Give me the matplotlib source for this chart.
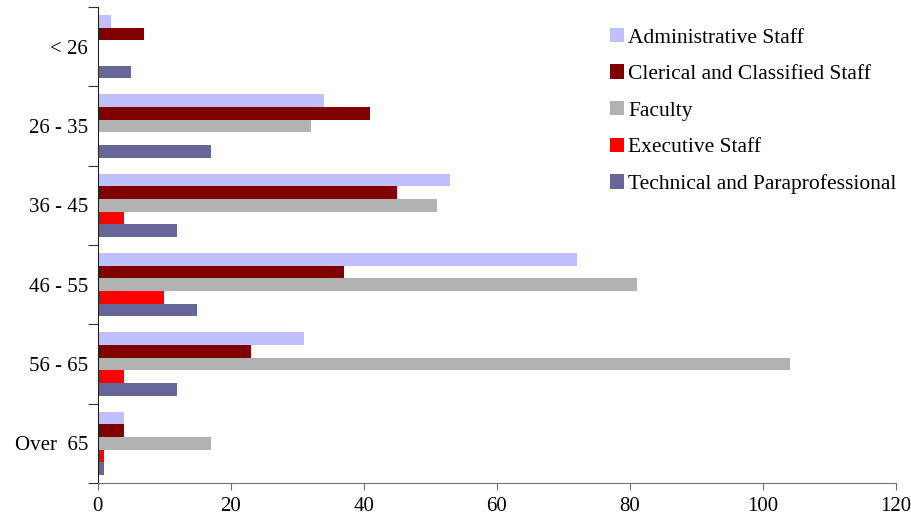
import numpy as np
import matplotlib
matplotlib.use("Agg")
from matplotlib import pyplot as plt

plt.rcParams['font.family'] = ['Liberation Serif', 'DejaVu Serif']

categories = ['< 26', '26 - 35', '36 - 45', '46 - 55', '56 - 65', 'Over  65']
series = ['Administrative Staff', 'Clerical and Classified Staff', 'Faculty',
          'Executive Staff', 'Technical and Paraprofessional']
admin = [2, 34, 53, 72, 31, 4]
clerical = [7, 41, 45, 37, 23, 4]
faculty = [0, 32, 51, 81, 104, 17]
executive = [0, 0, 4, 10, 4, 1]
technical = [5, 17, 12, 15, 12, 1]
colors = ['#C0C0FF', '#800000', '#B2B2B2', '#FF0000', '#666699']

values = [admin, clerical, faculty, executive, technical]

fig = plt.figure(figsize=(9.11, 5.22), dpi=100)
ax = fig.add_axes([0.1072, 0.0747, 0.8763, 0.9119])

y = np.arange(len(categories))
h = 0.16
for i, (vals, name, c) in enumerate(zip(values, series, colors)):
    ax.barh(y - 2 * h + i * h, vals, height=h, color=c, label=name)

ax.set_xlim(0, 120)
ax.set_ylim(len(categories) - 0.5, -0.5)
ax.set_xticks(range(0, 121, 20))

# boundaries as major ticks, labels centred on minor ticks
ax.set_yticks(np.arange(-0.5, len(categories), 1.0))
ax.set_yticklabels([])
ax.set_yticks(y, minor=True)
ax.set_yticklabels(categories, minor=True)
ax.tick_params(axis='y', which='minor', length=0, pad=7, labelsize=15)
ax.tick_params(axis='y', which='major', length=7, direction='out', color='#333333')
ax.tick_params(axis='x', length=5, direction='out', color='#707070', labelsize=15, pad=5)

for s in ['top', 'right']:
    ax.spines[s].set_visible(False)
ax.spines['left'].set_color('#222222')
ax.spines['bottom'].set_color('#707070')

ax.legend(loc='upper left', bbox_to_anchor=(0.642, 0.956), frameon=False, fontsize=15.5,
          borderpad=0, borderaxespad=0,
          handlelength=0.65, handleheight=0.65, handletextpad=0.2, labelspacing=0.78)

plt.savefig('out.png', dpi=100)
